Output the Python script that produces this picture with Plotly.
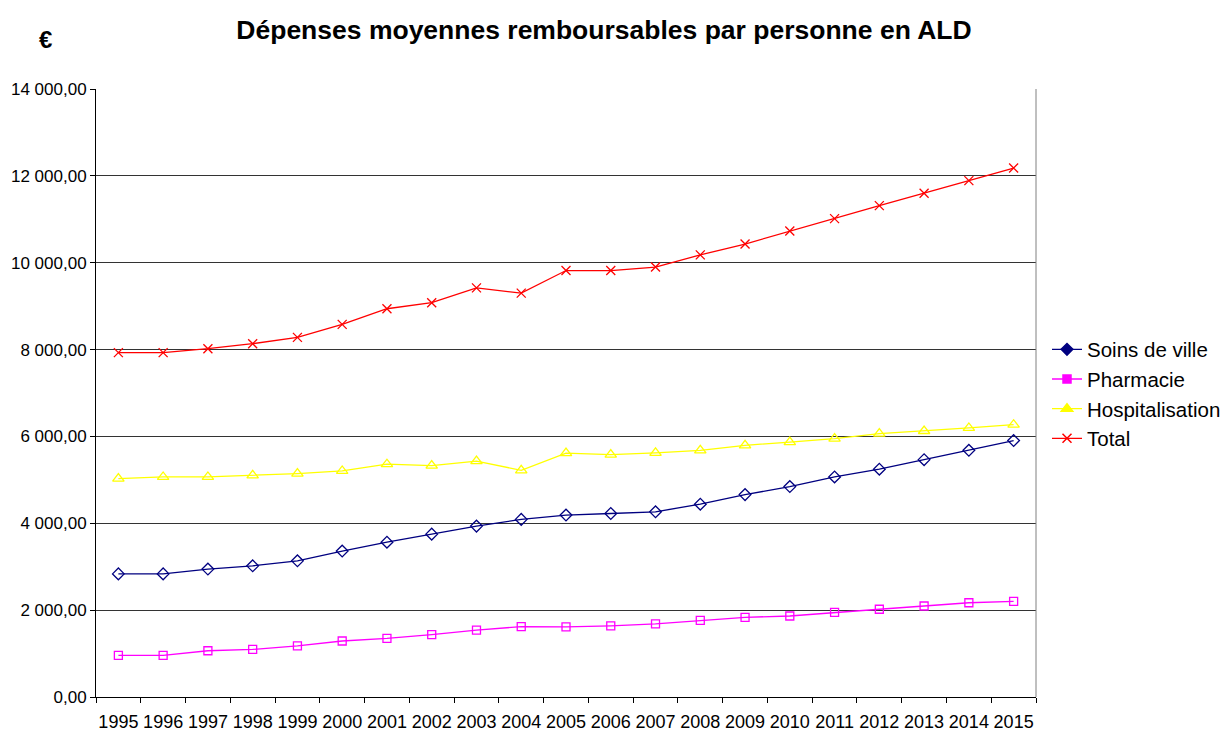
import plotly.graph_objects as go

years = [str(y) for y in range(1995, 2016)]

soins_de_ville = [2835, 2835, 2945, 3020, 3135, 3360, 3565, 3750, 3935, 4090, 4190,
                  4225, 4265, 4440, 4660, 4845, 5067, 5245, 5465, 5680, 5905]
pharmacie = [960, 960, 1065, 1095, 1175, 1290, 1350, 1435, 1540, 1620, 1615,
             1640, 1685, 1765, 1835, 1865, 1950, 2020, 2095, 2170, 2200]
hospitalisation = [5030, 5067, 5067, 5105, 5145, 5205, 5360, 5330, 5430, 5220, 5615,
                   5580, 5620, 5680, 5795, 5870, 5950, 6065, 6125, 6195, 6270]
total = [7930, 7930, 8020, 8135, 8280, 8580, 8940, 9080, 9420, 9300, 9820,
         9820, 9900, 10180, 10430, 10730, 11015, 11315, 11600, 11890, 12180]

y_ticks = [0, 2000, 4000, 6000, 8000, 10000, 12000, 14000]

series = [
    ("Soins de ville", soins_de_ville, "#000080", "diamond-open", "diamond", 9),
    ("Pharmacie", pharmacie, "#FF00FF", "square-open", "square", 8),
    ("Hospitalisation", hospitalisation, "#FFFF00", "triangle-up-open", "triangle-up", 10),
    ("Total", total, "#FF0000", "x-thin-open", "x-thin-open", 9),
]

FONT = "Arial, Liberation Sans, sans-serif"

# page body has an 8px margin; work in screenshot pixels and subtract it
OFF = 8
W, H = 1228 - OFF, 731 - OFF
L, T = 96 - OFF, 89 - OFF
R = W - (1036 - OFF)
B = H - (697 - OFF)
PW, PH = W - L - R, H - T - B


def px_x(x):
    return (x - OFF - L) / PW


def px_y(y):
    return (H - B - (y - OFF)) / PH


fig = go.Figure()
for name, vals, color, sym, legsym, size in series:
    fig.add_trace(go.Scatter(
        x=years, y=vals, mode="lines+markers", name=name, showlegend=False,
        line=dict(color=color, width=1.3),
        marker=dict(symbol=sym, size=size, color=color, line=dict(color=color, width=1.3)),
    ))
for name, vals, color, sym, legsym, size in series:
    fig.add_trace(go.Scatter(
        x=[None], y=[None], mode="lines+markers", name=name, showlegend=True,
        line=dict(color=color, width=1.3),
        marker=dict(symbol=legsym, size=size, color=color, line=dict(color=color, width=1.5)),
    ))

fig.update_layout(
    width=W, height=H,
    paper_bgcolor="white", plot_bgcolor="white",
    separators=", ",
    margin=dict(l=L, r=R, t=T, b=B, autoexpand=False),
    font=dict(family=FONT, color="black", size=18),
    title=dict(text="<b>Dépenses moyennes remboursables par personne en ALD</b>",
               x=(604 - OFF) / W, xanchor="center", y=1 - (30 - OFF) / H, yanchor="middle",
               xref="container", yref="container",
               font=dict(size=26.5, family=FONT, color="black")),
    legend=dict(x=px_x(1047), xanchor="left", y=px_y(394), yanchor="middle",
                font=dict(size=20.5, family=FONT), tracegroupgap=0,
                itemwidth=30, bgcolor="rgba(0,0,0,0)"),
    showlegend=True,
    annotations=[dict(text="<b>€</b>", x=px_x(45), y=px_y(40),
                      xref="paper", yref="paper", xanchor="center", yanchor="middle",
                      showarrow=False, font=dict(size=24, family=FONT))],
)

fig.update_xaxes(
    type="category", range=[-0.5, 20.5], automargin=False,
    showline=True, linecolor="black", linewidth=1,
    ticks="outside", ticklen=5, tickcolor="black", tickson="boundaries",
    showgrid=False, tickfont=dict(size=18), tickangle=0, ticklabelstandoff=8,
)
fig.update_yaxes(
    range=[0, 14000], tickvals=y_ticks, tickformat=",.2f", automargin=False,
    showline=True, linecolor="black", linewidth=1,
    ticks="outside", ticklen=5, tickcolor="black",
    showgrid=True, gridcolor="#333333", gridwidth=1,
    zeroline=False, tickfont=dict(size=17),
)
fig.add_shape(type="line", xref="paper", yref="paper", x0=1, x1=1, y0=0, y1=1,
              line=dict(color="#808080", width=1))

fig.write_html("out.html")
